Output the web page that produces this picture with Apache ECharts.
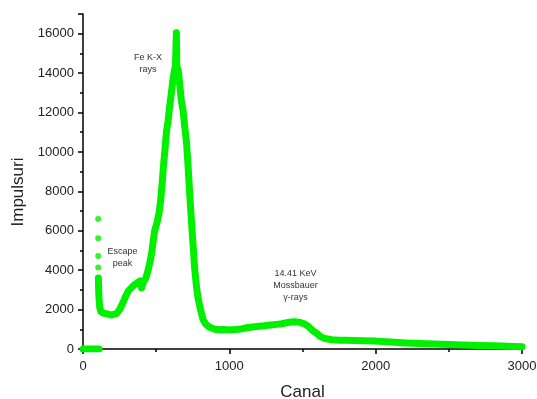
<!DOCTYPE html>
<html>
<head>
<meta charset="utf-8">
<script src="https://cdn.jsdelivr.net/npm/echarts@6/dist/echarts.min.js"></script>
<style>
html,body{margin:0;padding:0;background:#fff;}
#chart{width:537px;height:399px;}
</style>
</head>
<body>
<div id="chart"></div>
<script>
// Flat zero region at the start of the spectrum
const zeroCanal = [0, 10, 20, 30, 40, 50, 60, 70, 80, 90, 100, 110];
const zeroCounts = [0, 0, 0, 0, 0, 0, 0, 0, 0, 0, 0, 0];

// Isolated points at the escape peak onset
const escapeCanal = [104, 104, 104, 104];
const escapeCounts = [6600, 5620, 4720, 4130];

// Main spectrum
const canal = [105, 107, 110, 115, 122, 135, 150, 170, 190, 210, 230, 250, 270, 290, 310, 330, 350, 370, 390, 400, 410, 430, 445, 460, 470, 480, 490, 505, 520, 530, 540, 550, 560, 570, 582, 592, 604, 615, 627, 632, 638, 642, 650, 660, 672, 684, 695, 707, 718, 729, 741, 752, 763, 775, 786, 800, 820, 840, 860, 880, 900, 930, 960, 1000, 1040, 1080, 1120, 1160, 1200, 1240, 1280, 1320, 1360, 1400, 1440, 1480, 1510, 1540, 1560, 1580, 1600, 1620, 1650, 1700, 1750, 1800, 1900, 2000, 2100, 2200, 2300, 2400, 2500, 2600, 2700, 2800, 2900, 3000];
const impulsuri = [3600, 3000, 2500, 2100, 1900, 1820, 1800, 1780, 1720, 1760, 1800, 2000, 2300, 2650, 2950, 3100, 3250, 3350, 3450, 3100, 3350, 3600, 4000, 4500, 4900, 5500, 6000, 6400, 6900, 7500, 8300, 9300, 10100, 11000, 11600, 12300, 13000, 13700, 14200, 14400, 16050, 13900, 14200, 13500, 12600, 12100, 11300, 10500, 9300, 7900, 6500, 5300, 4100, 3200, 2600, 2100, 1500, 1250, 1130, 1060, 1000, 980, 990, 970, 990, 1020, 1080, 1120, 1150, 1180, 1220, 1250, 1280, 1350, 1380, 1360, 1280, 1150, 1000, 880, 780, 640, 540, 470, 450, 440, 420, 400, 350, 310, 280, 250, 230, 200, 180, 160, 140, 120];

// Axis ticks
const xTicks = [0, 1000, 2000, 3000];
const yTicks = [0, 2000, 4000, 6000, 8000, 10000, 12000, 14000, 16000];

// Annotations: [canal, impulsuri, text]
const notes = [
  [445, 14500, 'Fe K-X\nrays'],
  [270, 4620, 'Escape\npeak'],
  [1452, 3200, '14.41 KeV\nMossbauer\nγ-rays']
];

const green = '#00f000';
const zip = (a, b) => a.map((v, i) => [v, b[i]]);

const chart = echarts.init(document.getElementById('chart'), null, {renderer: 'canvas'});
chart.setOption({
  animation: false,
  backgroundColor: '#fff',
  grid: {left: 83, right: 15, top: 14, bottom: 50, containLabel: false, outerBoundsMode: 'none'},
  xAxis: {
    type: 'value', min: xTicks[0], max: xTicks[xTicks.length - 1], interval: 1000,
    name: 'Canal', nameLocation: 'middle', nameGap: 35,
    nameTextStyle: {fontFamily: 'Liberation Sans', fontSize: 17, color: '#222'},
    axisLine: {lineStyle: {color: '#000', width: 1.5}},
    axisTick: {show: true, inside: false, length: 5, lineStyle: {color: '#000', width: 1.5}},
    minorTick: {show: true, splitNumber: 2, length: 3, lineStyle: {color: '#000', width: 1.5}},
    splitLine: {show: false},
    axisLabel: {fontFamily: 'Liberation Sans', fontSize: 13, color: '#222', margin: 11,
      formatter: v => String(v)}
  },
  yAxis: {
    type: 'value', min: yTicks[0], max: 17000, interval: 2000,
    axisLine: {show: true, lineStyle: {color: '#000', width: 1.5}},
    axisTick: {show: true, inside: false, length: 5, lineStyle: {color: '#000', width: 1.5}},
    minorTick: {show: true, splitNumber: 2, length: 3, lineStyle: {color: '#000', width: 1.5}},
    splitLine: {show: false},
    axisLabel: {fontFamily: 'Liberation Sans', fontSize: 13, color: '#222', margin: 9,
      formatter: v => (yTicks.indexOf(v) >= 0 ? String(v) : '')}
  },
  graphic: [{
    type: 'text', x: 18, y: 192, rotation: Math.PI / 2,
    style: {text: 'Impulsuri', fontFamily: 'Liberation Sans', fontSize: 17, fill: '#222',
      align: 'center', verticalAlign: 'middle'}
  }],
  series: [
    {
      type: 'line', data: zip(zeroCanal, zeroCounts), showSymbol: false,
      lineStyle: {color: green, width: 7, cap: 'round'}, z: 3
    },
    {
      type: 'scatter', data: zip(escapeCanal, escapeCounts), symbolSize: 6,
      itemStyle: {color: green}, z: 3
    },
    {
      type: 'line', data: zip(canal, impulsuri), symbol: 'circle', symbolSize: 6,
      itemStyle: {color: green}, lineStyle: {color: green, width: 7, cap: 'round', join: 'round'}, z: 3,
      markPoint: {
        symbol: 'circle', symbolSize: 0, silent: true,
        label: {show: true, position: 'inside', fontFamily: 'Liberation Sans', fontSize: 9, color: '#333', lineHeight: 12, align: 'center'},
        data: notes.map(n => ({coord: [n[0], n[1]], value: n[2], label: {formatter: n[2]}}))
      }
    }
  ]
});
</script>
</body>
</html>
